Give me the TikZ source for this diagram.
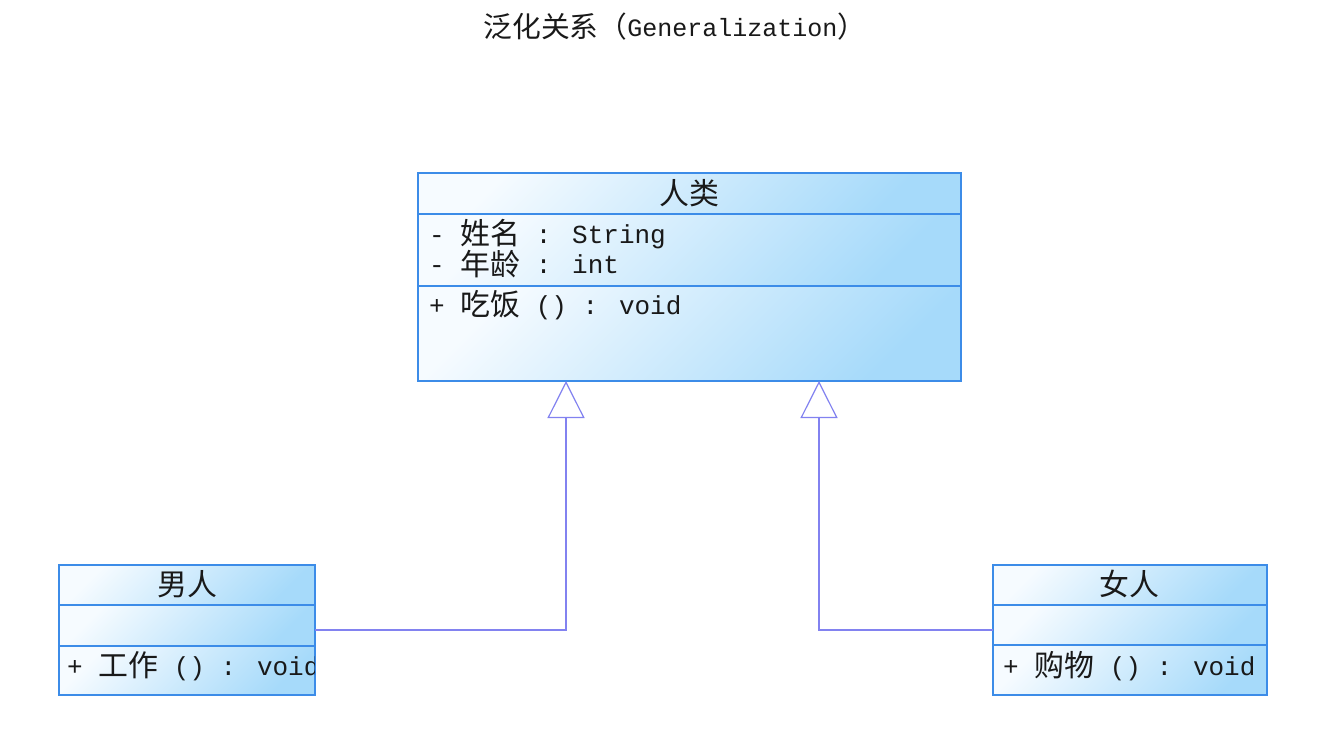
\documentclass[tikz,border=0pt]{standalone}
\usepackage{fontspec}
\setmainfont{Liberation Mono}
\newfontfamily\cjk[Scale=1.15]{Noto Sans CJK SC}
\usetikzlibrary{arrows.meta,calc}
\definecolor{umlborder}{RGB}{60,140,232}
\definecolor{umllight}{RGB}{246,251,255}
\definecolor{umldark}{RGB}{166,218,250}
\definecolor{umlline}{RGB}{130,130,240}
\definecolor{umltext}{RGB}{25,25,25}
\newcommand{\cj}[1]{\raisebox{-1.5pt}{\cjk #1}}
\begin{document}
\begin{tikzpicture}[x=1pt,y=-1pt,
  comp/.style={draw=umlborder, line width=1.6pt, top color=umllight, bottom color=umldark, shading angle=45, inner sep=0pt, outer sep=0pt, anchor=north west},
  lbl/.style={inner sep=0pt, text=umltext, font=\fontsize{26}{30}\selectfont},
  gen/.style={draw=umlline, line width=1.2pt, -{Triangle[open, length=37pt, width=37pt, line width=1.2pt]}}
]
\useasboundingbox[fill=white] (0,0) rectangle (1327,743);
% title
\node[lbl, font=\fontsize{25}{29}\selectfont] (title) at (675,27) {\cj{泛化关系（}Generalization\cj{）}};
% superclass
\node[comp, minimum width=543pt, minimum height=41pt] (h1) at (418,173) {};
\node[comp, minimum width=543pt, minimum height=72pt] (h2) at (418,214) {};
\node[comp, minimum width=543pt, minimum height=95pt] (h3) at (418,286) {};
\node[lbl] (hname) at (689,193) {\cj{人类}};
\node[lbl, anchor=west] (ha1) at (429,234) {- \cj{姓名} : String};
\node[lbl, anchor=west] (ha2) at (429,264) {- \cj{年龄} : int};
\node[lbl, anchor=west] (hm1) at (429,305) {+ \cj{吃饭} () : void};
% male
\node[comp, minimum width=256pt, minimum height=40pt] (m1) at (59,565) {};
\node[comp, minimum width=256pt, minimum height=41pt] (m2) at (59,605) {};
\node[comp, minimum width=256pt, minimum height=49pt] (m3) at (59,646) {};
\node[lbl] (mname) at (187,584) {\cj{男人}};
\begin{scope}
  \clip (59,646) rectangle (314,695);
  \node[lbl, anchor=west] (mm1) at (67,666) {+ \cj{工作} () : void};
\end{scope}
% female
\node[comp, minimum width=274pt, minimum height=40pt] (f1) at (993,565) {};
\node[comp, minimum width=274pt, minimum height=40pt] (f2) at (993,605) {};
\node[comp, minimum width=274pt, minimum height=50pt] (f3) at (993,645) {};
\node[lbl] (fname) at (1129,584) {\cj{女人}};
\node[lbl, anchor=west] (fm1) at (1003,666) {+ \cj{购物} () : void};
% generalization connectors
\draw[gen] ($(m2.east)+(0,4.5)$) -| ($(h3.south west)+(148,0)$);
\draw[gen] ($(f2.west)+(0,5)$) -| ($(h3.south west)+(401,0)$);
\end{tikzpicture}
\end{document}
